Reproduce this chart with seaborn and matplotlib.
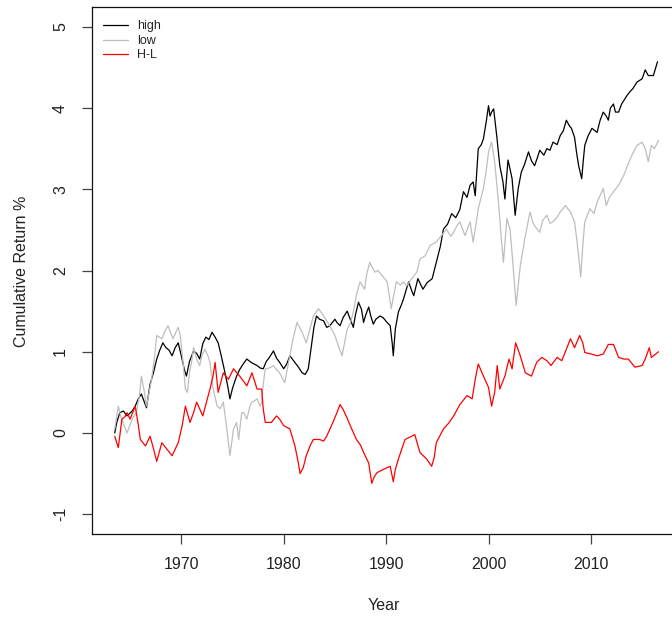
import numpy as np
import pandas as pd
import matplotlib
matplotlib.use("Agg")
import matplotlib.pyplot as plt
import seaborn as sns
from matplotlib.lines import Line2D

# Cumulative returns of the high / low portfolios and the high-minus-low spread
high_year = [1963.5, 1963.7, 1964.0, 1964.35, 1964.7, 1965.2, 1965.5, 1965.8, 1966.1, 1966.6,
             1966.95, 1967.3, 1967.6, 1967.9, 1968.2, 1968.5, 1968.8, 1969.1, 1969.4, 1969.7,
             1970.0, 1970.3, 1970.5, 1970.8, 1971.2, 1971.5, 1971.8, 1972.1, 1972.4, 1972.7,
             1973.0, 1973.3, 1973.6, 1973.9, 1974.2, 1974.5, 1974.75, 1975.0, 1975.4, 1975.7,
             1976.1, 1976.4, 1976.8, 1977.1, 1977.4, 1977.7, 1978.0, 1978.3, 1978.6, 1979.0,
             1979.3, 1979.6, 1980.0, 1980.3, 1980.6, 1980.9, 1981.2, 1981.5, 1981.8, 1982.1,
             1982.4, 1982.7, 1982.95, 1983.2, 1983.5, 1983.9, 1984.2, 1984.5, 1985.0, 1985.2,
             1985.5, 1985.8, 1986.2, 1986.5, 1986.8, 1987.0, 1987.3, 1987.6, 1987.8, 1988.0,
             1988.3, 1988.5, 1988.75, 1989.0, 1989.4, 1989.7, 1990.1, 1990.4, 1990.6, 1990.7,
             1990.9, 1991.2, 1991.5, 1991.7, 1992.0, 1992.2, 1992.5, 1992.7, 1993.1, 1993.4,
             1993.6, 1994.0, 1994.5, 1994.9, 1995.3, 1995.6, 1996.0, 1996.4, 1996.8, 1997.2,
             1997.55, 1997.9, 1998.2, 1998.5, 1998.7, 1999.0, 1999.3, 1999.5, 1999.8, 2000.0,
             2000.15, 2000.3, 2000.5, 2000.8, 2001.1, 2001.4, 2001.6, 2001.9, 2002.1, 2002.3,
             2002.6, 2002.9, 2003.2, 2003.5, 2003.9, 2004.2, 2004.5, 2004.8, 2005.0, 2005.4,
             2005.7, 2006.0, 2006.3, 2006.7, 2007.0, 2007.3, 2007.6, 2007.9, 2008.1, 2008.4,
             2008.6, 2008.8, 2009.1, 2009.25, 2009.4, 2009.7, 2010.1, 2010.4, 2010.6, 2010.9,
             2011.2, 2011.5, 2011.7, 2011.9, 2012.2, 2012.4, 2012.7, 2013.0, 2013.5, 2013.8,
             2014.1, 2014.5, 2015.0, 2015.3, 2015.6, 2016.1, 2016.5]
high_ret = [0.00, 0.13, 0.25, 0.27, 0.21, 0.27, 0.33, 0.42, 0.48, 0.31,
            0.60, 0.75, 0.91, 1.02, 1.11, 1.05, 1.02, 0.95, 1.05, 1.11,
            0.95, 0.78, 0.70, 0.88, 1.01, 0.98, 0.91, 1.10, 1.18, 1.15,
            1.24, 1.18, 1.11, 0.95, 0.78, 0.60, 0.42, 0.55, 0.70, 0.78,
            0.86, 0.91, 0.87, 0.85, 0.83, 0.80, 0.79, 0.88, 0.93, 1.01,
            0.92, 0.87, 0.79, 0.85, 0.95, 0.90, 0.85, 0.80, 0.74, 0.72,
            0.79, 1.07, 1.30, 1.44, 1.40, 1.38, 1.30, 1.32, 1.40, 1.36,
            1.32, 1.42, 1.50, 1.40, 1.30, 1.45, 1.61, 1.52, 1.36, 1.45,
            1.55, 1.44, 1.34, 1.40, 1.44, 1.42, 1.36, 1.32, 1.10, 0.95,
            1.28, 1.49, 1.58, 1.65, 1.78, 1.86, 1.75, 1.69, 1.90, 1.82,
            1.77, 1.85, 1.90, 2.10, 2.30, 2.51, 2.57, 2.70, 2.65, 2.75,
            2.97, 2.90, 3.05, 3.09, 2.92, 3.50, 3.55, 3.62, 3.85, 4.03,
            3.90, 3.95, 3.99, 3.66, 3.29, 3.10, 2.88, 3.36, 3.25, 3.13,
            2.68, 3.01, 3.21, 3.30, 3.46, 3.35, 3.29, 3.40, 3.48, 3.42,
            3.50, 3.48, 3.58, 3.55, 3.66, 3.72, 3.85, 3.78, 3.75, 3.64,
            3.45, 3.29, 3.13, 3.35, 3.54, 3.65, 3.75, 3.72, 3.70, 3.85,
            3.95, 3.90, 3.85, 4.00, 4.05, 3.95, 3.95, 4.05, 4.15, 4.20,
            4.24, 4.32, 4.36, 4.47, 4.40, 4.40, 4.57]

low_year = [1963.5, 1963.85, 1964.1, 1964.3, 1964.7, 1965.2, 1965.6, 1965.9, 1966.1, 1966.4,
            1966.6, 1967.1, 1967.4, 1967.6, 1968.1, 1968.4, 1968.7, 1969.0, 1969.2, 1969.5,
            1969.7, 1969.9, 1970.2, 1970.4, 1970.6, 1970.8, 1971.0, 1971.2, 1971.5, 1971.8,
            1972.0, 1972.3, 1972.6, 1972.8, 1973.1, 1973.5, 1973.8, 1974.1, 1974.4, 1974.75,
            1975.1, 1975.4, 1975.6, 1975.9, 1976.1, 1976.4, 1976.7, 1976.9, 1977.2, 1977.4,
            1977.7, 1977.85, 1978.0, 1978.2, 1978.6, 1979.0, 1979.3, 1979.6, 1980.1, 1980.6,
            1980.9, 1981.3, 1981.8, 1982.2, 1982.6, 1982.9, 1983.4, 1983.9, 1984.2, 1984.5,
            1985.0, 1985.4, 1985.7, 1986.2, 1986.5, 1986.8, 1987.1, 1987.45, 1987.9, 1988.1,
            1988.4, 1988.9, 1989.2, 1989.6, 1990.1, 1990.3, 1990.5, 1990.75, 1991.0, 1991.4,
            1991.7, 1992.0, 1992.5, 1993.0, 1993.3, 1993.8, 1994.3, 1994.9, 1995.4, 1995.9,
            1996.3, 1996.6, 1996.9, 1997.2, 1997.7, 1998.2, 1998.5, 1998.75, 1999.0, 1999.5,
            1999.8, 2000.0, 2000.3, 2000.6, 2001.0, 2001.25, 2001.45, 2001.8, 2002.1, 2002.4,
            2002.7, 2003.1, 2003.6, 2004.05, 2004.3, 2004.5, 2005.0, 2005.3, 2005.7, 2006.0,
            2006.3, 2006.7, 2007.0, 2007.5, 2008.0, 2008.4, 2008.6, 2008.8, 2009.0, 2009.2,
            2009.4, 2009.9, 2010.3, 2010.6, 2011.2, 2011.5, 2011.8, 2012.2, 2012.7, 2013.2,
            2013.6, 2014.0, 2014.5, 2015.0, 2015.3, 2015.6, 2015.9, 2016.2, 2016.6]
low_ret = [0.05, 0.33, 0.20, 0.13, 0.00, 0.17, 0.25, 0.45, 0.70, 0.50,
           0.33, 0.66, 0.95, 1.20, 1.16, 1.25, 1.32, 1.22, 1.16, 1.25,
           1.30, 1.20, 0.83, 0.54, 0.50, 0.75, 0.87, 1.05, 0.91, 0.83,
           0.95, 1.03, 0.95, 0.87, 0.55, 0.33, 0.30, 0.38, 0.10, -0.28,
           0.05, 0.13, -0.08, 0.25, 0.25, 0.17, 0.33, 0.38, 0.40, 0.42,
           0.33, 0.38, 0.60, 0.79, 0.80, 0.83, 0.78, 0.74, 0.62, 0.95,
           1.15, 1.36, 1.24, 1.11, 1.30, 1.44, 1.53, 1.44, 1.38, 1.32,
           1.20, 1.05, 0.95, 1.28, 1.35, 1.49, 1.70, 1.86, 1.77, 1.95,
           2.10, 1.98, 2.00, 1.94, 1.86, 1.70, 1.53, 1.70, 1.86, 1.82,
           1.86, 1.81, 1.90, 1.98, 2.14, 2.18, 2.31, 2.35, 2.43, 2.51,
           2.42, 2.47, 2.55, 2.60, 2.43, 2.60, 2.35, 2.55, 2.76, 3.01,
           3.25, 3.46, 3.58, 3.34, 2.80, 2.40, 2.10, 2.64, 2.51, 2.06,
           1.57, 2.06, 2.43, 2.72, 2.60, 2.55, 2.47, 2.62, 2.68, 2.58,
           2.60, 2.66, 2.72, 2.80, 2.72, 2.60, 2.40, 2.18, 1.92, 2.30,
           2.60, 2.76, 2.70, 2.84, 3.01, 2.80, 2.90, 2.97, 3.05, 3.17,
           3.30, 3.42, 3.54, 3.58, 3.50, 3.34, 3.54, 3.50, 3.60]

hl_year = [1963.5, 1963.85, 1964.2, 1964.5, 1964.7, 1965.0, 1965.5, 1965.8, 1966.0, 1966.5,
           1966.95, 1967.3, 1967.6, 1968.1, 1968.6, 1969.1, 1969.4, 1969.7, 1970.1, 1970.4,
           1970.85, 1971.2, 1971.5, 1972.1, 1972.5, 1972.8, 1973.1, 1973.3, 1973.6, 1974.1,
           1974.6, 1975.1, 1975.7, 1976.4, 1976.9, 1977.4, 1977.85, 1978.0, 1978.2, 1978.8,
           1979.3, 1979.6, 1980.0, 1980.6, 1981.1, 1981.4, 1981.6, 1981.9, 1982.2, 1982.6,
           1982.9, 1983.5, 1983.9, 1984.2, 1984.8, 1985.2, 1985.5, 1985.8, 1986.2, 1986.5,
           1987.1, 1987.5, 1987.8, 1988.3, 1988.6, 1988.8, 1989.1, 1989.7, 1990.4, 1990.7,
           1990.9, 1991.2, 1991.85, 1992.5, 1992.8, 1993.3, 1993.95, 1994.45, 1994.7, 1994.9,
           1995.6, 1996.1, 1996.6, 1997.2, 1997.9, 1998.4, 1998.7, 1999.0, 1999.5, 2000.0,
           2000.3, 2000.6, 2000.85, 2001.1, 2001.6, 2002.0, 2002.3, 2002.65, 2003.1, 2003.6,
           2004.2, 2004.7, 2005.2, 2005.7, 2006.1, 2006.7, 2007.15, 2007.6, 2008.0, 2008.4,
           2008.9, 2009.2, 2009.4, 2010.1, 2010.6, 2011.2, 2011.7, 2012.2, 2012.7, 2013.2,
           2013.65, 2014.3, 2015.0, 2015.3, 2015.7, 2015.9, 2016.6]
hl_ret = [-0.04, -0.18, 0.17, 0.20, 0.25, 0.17, 0.33, 0.10, -0.08, -0.16,
          -0.04, -0.20, -0.35, -0.12, -0.20, -0.28, -0.20, -0.12, 0.10, 0.33,
          0.13, 0.25, 0.38, 0.21, 0.40, 0.54, 0.70, 0.87, 0.50, 0.74,
          0.66, 0.79, 0.70, 0.58, 0.74, 0.54, 0.54, 0.30, 0.13, 0.13,
          0.21, 0.17, 0.09, 0.05, -0.16, -0.35, -0.50, -0.43, -0.28, -0.15,
          -0.08, -0.08, -0.10, -0.04, 0.13, 0.25, 0.35, 0.29, 0.18, 0.09,
          -0.08, -0.15, -0.24, -0.37, -0.62, -0.55, -0.49, -0.45, -0.41, -0.60,
          -0.45, -0.32, -0.08, -0.04, -0.02, -0.24, -0.32, -0.41, -0.30, -0.12,
          0.05, 0.12, 0.21, 0.35, 0.46, 0.42, 0.66, 0.85, 0.70, 0.56,
          0.33, 0.50, 0.83, 0.54, 0.70, 0.91, 0.79, 1.11, 0.95, 0.74,
          0.70, 0.87, 0.93, 0.89, 0.83, 0.93, 0.89, 1.03, 1.16, 1.05,
          1.20, 1.11, 0.99, 0.97, 0.95, 0.97, 1.09, 1.09, 0.93, 0.91,
          0.91, 0.81, 0.83, 0.91, 1.05, 0.93, 1.00]

series_names = ["high", "low", "H-L"]
series_colors = ["#000000", "#BEBEBE", "#FF0000"]
x_ticks = [1970, 1980, 1990, 2000, 2010]
y_ticks = [-1, 0, 1, 2, 3, 4, 5]

frames = [
    pd.DataFrame({"Year": high_year, "ret": high_ret, "series": "high"}),
    pd.DataFrame({"Year": low_year, "ret": low_ret, "series": "low"}),
    pd.DataFrame({"Year": hl_year, "ret": hl_ret, "series": "H-L"}),
]
df = pd.concat(frames, ignore_index=True)

sns.set_style("white")
plt.rcParams["font.family"] = ["Liberation Sans", "DejaVu Sans"]

W, H = 672, 621
fig = plt.figure(figsize=(W / 100, H / 100), dpi=100)
ax = fig.add_axes([92.3 / W, (H - 533.7) / H, (679 - 92.3) / W, (533.7 - 7.3) / H])

for name, col in zip(series_names, series_colors):
    sub = df[df["series"] == name]
    sns.lineplot(data=sub, x="Year", y="ret", color=col, lw=0.9,
                 estimator=None, sort=False, ax=ax, legend=False)

ax.set_xlim(1961.31, 2018.6)
ax.set_ylim(-1.24, 5.24)
ax.set_xticks(x_ticks)
ax.set_yticks(y_ticks)
ax.set_xticklabels([str(t) for t in x_ticks], fontsize=11.5, color="#222222")
ax.set_yticklabels([str(t) for t in y_ticks], fontsize=11.5, color="#222222",
                   rotation=90, va="center")
ax.tick_params(axis="both", direction="out", length=7.5, width=0.9,
               color="#444444", bottom=True, left=True)
ax.tick_params(axis="x", pad=9)
ax.tick_params(axis="y", pad=10)
for s in ax.spines.values():
    s.set_visible(True)
    s.set_color("#111111")
    s.set_linewidth(0.9)
ax.set_xlabel("")
ax.set_ylabel("")

fig.text(384 / W, 1 - 605 / H, "Year", ha="center", va="center",
         fontsize=11.5, color="#222222")
fig.text(22 / W, 1 - 271 / H, "Cumulative Return %", ha="center", va="center",
         rotation=90, fontsize=11.5, color="#222222")

handles = [Line2D([], [], color=c, lw=0.9) for c in series_colors]
ax.legend(handles, series_names, loc="upper left",
          bbox_to_anchor=(103 / W, 1 - 20.5 / H), bbox_transform=fig.transFigure,
          frameon=False, fontsize=9, borderpad=0, borderaxespad=0,
          handlelength=2.0, handletextpad=0.7, labelspacing=0.2)

fig.savefig("out.png", dpi=100)
